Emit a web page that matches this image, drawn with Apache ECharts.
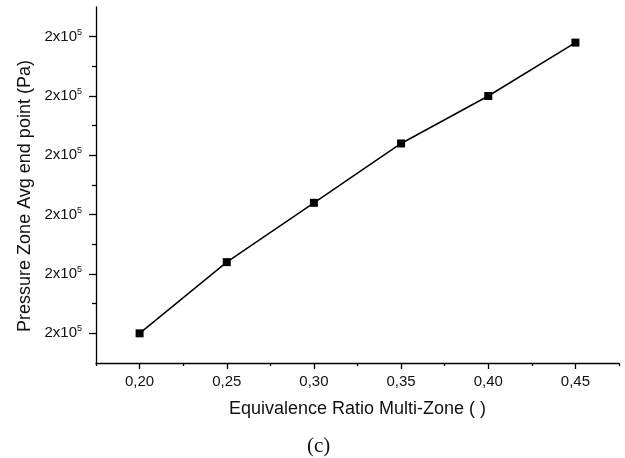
<!DOCTYPE html>
<html>
<head>
<meta charset="utf-8">
<script src="https://cdn.jsdelivr.net/npm/echarts@6/dist/echarts.min.js"></script>
<style>
html,body{margin:0;padding:0;background:#fff;}
#chart{width:625px;height:458px;}
</style>
</head>
<body>
<div id="chart"></div>
<script>
// Data
const xValues = [0.20, 0.25, 0.30, 0.35, 0.40, 0.45];
const pressure = [185000, 191000, 196000, 201000, 205000, 209500];

// Axis ticks
const xMajorTicks = [0.20, 0.25, 0.30, 0.35, 0.40, 0.45];
const xMinorTicks = [0.175, 0.225, 0.275, 0.325, 0.375, 0.425, 0.475];
const yMajorTicks = [185000, 190000, 195000, 200000, 205000, 210000];
const yMinorTicks = [187500, 192500, 197500, 202500, 207500];
const yTickLabels = ['2x10{s|5}', '2x10{s|5}', '2x10{s|5}', '2x10{s|5}', '2x10{s|5}', '2x10{s|5}'];

const xTitle = 'Equivalence Ratio Multi-Zone ( )';
const yTitle = 'Pressure Zone Avg end point (Pa)';
const caption = '(c)';

const FONT = "'Liberation Sans', Arial, sans-serif";
const INK = '#111';

const chart = echarts.init(document.getElementById('chart'), null, {renderer: 'canvas'});
const xMin = 0.175, xMax = 0.475, yMin = 182500, yMax = 212500;

chart.setOption({
  animation: false,
  backgroundColor: '#fff',
  grid: {left: 96, right: 6, top: 7, bottom: 95, containLabel: false},
  title: {
    text: caption,
    left: 302, top: 431,
    textStyle: {fontFamily: "'Liberation Serif', 'Times New Roman', serif", fontSize: 21, fontWeight: 'normal', color: INK}
  },
  xAxis: [
    {
      type: 'value', min: xMin, max: xMax, position: 'bottom',
      name: xTitle, nameLocation: 'middle', nameGap: 37,
      nameTextStyle: {fontFamily: FONT, fontSize: 18, color: INK},
      axisLine: {show: true, lineStyle: {color: '#000', width: 1.3}},
      axisTick: {show: true, inside: false, length: 6, customValues: xMajorTicks, lineStyle: {color: '#000', width: 1.3}},
      axisLabel: {show: true, margin: 11, customValues: xMajorTicks, fontFamily: FONT, fontSize: 15, color: INK,
        formatter: v => v.toFixed(2).replace('.', ',')},
      splitLine: {show: false}
    },
    {
      type: 'value', min: xMin, max: xMax, position: 'bottom', gridIndex: 0,
      axisLine: {show: false},
      axisTick: {show: true, inside: false, length: 3, customValues: xMinorTicks, lineStyle: {color: '#000', width: 1.3}},
      axisLabel: {show: false},
      splitLine: {show: false}
    }
  ],
  yAxis: [
    {
      type: 'value', min: yMin, max: yMax, position: 'left',
      name: yTitle, nameLocation: 'middle', nameGap: 62, nameRotate: 90,
      nameTextStyle: {fontFamily: FONT, fontSize: 18, color: INK, padding: [0, 22, 0, 0]},
      axisLine: {show: true, lineStyle: {color: '#000', width: 1.3}},
      axisTick: {show: true, inside: false, length: 7, customValues: yMajorTicks, lineStyle: {color: '#000', width: 1.3}},
      axisLabel: {show: true, margin: 14, customValues: yMajorTicks, fontFamily: FONT, fontSize: 15, color: INK,
        formatter: v => yTickLabels[yMajorTicks.indexOf(v)] || '',
        rich: {s: {fontSize: 9, fontFamily: FONT, color: INK, padding: [0, 0, 9, 0]}}},
      splitLine: {show: false}
    },
    {
      type: 'value', min: yMin, max: yMax, position: 'left', gridIndex: 0,
      axisLine: {show: false},
      axisTick: {show: true, inside: false, length: 4, customValues: yMinorTicks, lineStyle: {color: '#000', width: 1.3}},
      axisLabel: {show: false},
      splitLine: {show: false}
    }
  ],
  series: [{
    type: 'line',
    xAxisIndex: 0, yAxisIndex: 0,
    data: xValues.map((x, i) => [x, pressure[i]]),
    lineStyle: {color: '#000', width: 1.5},
    itemStyle: {color: '#000'},
    symbol: 'rect', symbolSize: 8,
    showSymbol: true
  }]
});
</script>
</body>
</html>
